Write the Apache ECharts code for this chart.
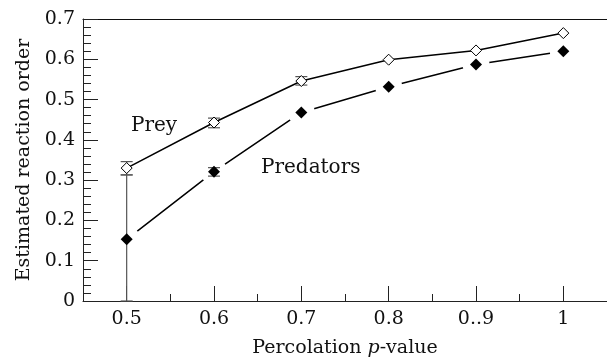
<!DOCTYPE html>
<html>
<head>
<meta charset="utf-8">
<script src="https://cdn.jsdelivr.net/npm/echarts@6/dist/echarts.min.js"></script>
<style>html,body{margin:0;padding:0;background:#fff}#c{width:607px;height:363px}</style>
</head>
<body>
<div id="c"></div>
<script>
const xValues = [0.5, 0.6, 0.7, 0.8, 0.9, 1.0];
const xTickLabels = ['0.5', '0.6', '0.7', '0.8', '0..9', '1'];
const xMinorTicks = [0.55, 0.65, 0.75, 0.85, 0.95];
const yTickLabels = ['0', '0.1', '0.2', '0.3', '0.4', '0.5', '0.6', '0.7'];
const preyValues = [0.330, 0.443, 0.546, 0.599, 0.622, 0.665];
const preyErrLow = [0.313, 0.430, 0.536, null, null, null];
const preyErrHigh = [0.346, 0.454, 0.557, null, null, null];
const predValues = [0.153, 0.321, 0.468, 0.532, 0.587, 0.620];
const predErrLow = [0.0, 0.310, null, null, null, null];
const predErrHigh = [0.313, 0.331, null, null, null, null];

const FONT = 'DejaVu Serif';
const chart = echarts.init(document.getElementById('c'), null, {renderer: 'canvas'});

function pts(vals) { return xValues.map((x, i) => [x, vals[i]]); }
function errs(lo, hi) {
  const out = [];
  xValues.forEach((x, i) => { if (lo[i] != null) out.push([x, lo[i], hi[i]]); });
  return out;
}
function errRender(params, api) {
  const x = api.value(0), lo = api.value(1), hi = api.value(2);
  const a = api.coord([x, lo]), b = api.coord([x, hi]);
  const w = 6;
  const st = {stroke: '#555', lineWidth: 1.2};
  return {type: 'group', children: [
    {type: 'line', shape: {x1: a[0], y1: a[1], x2: b[0], y2: b[1]}, style: st},
    {type: 'line', shape: {x1: a[0] - w, y1: a[1], x2: a[0] + w, y2: a[1]}, style: st},
    {type: 'line', shape: {x1: b[0] - w, y1: b[1], x2: b[0] + w, y2: b[1]}, style: st}
  ]};
}

const option = {
  animation: false,
  backgroundColor: '#fff',
  grid: {left: 83, top: 19, width: 532, height: 284, show: false},
  xAxis: [{
    type: 'value', min: 0.45, max: 1.05,
    name: 'Percolation {i|p}-value', nameLocation: 'middle', nameGap: 38,
    nameTextStyle: {fontFamily: FONT, fontSize: 19, color: '#111', rich: {i: {fontFamily: FONT, fontStyle: 'italic', fontSize: 19, color: '#111'}}},
    axisLine: {show: true, lineStyle: {color: '#222', width: 1}},
    axisTick: {show: true, inside: true, length: 15, customValues: xValues, lineStyle: {color: '#222', width: 1}},
    axisLabel: {show: true, customValues: xValues, margin: 9, fontFamily: FONT, fontSize: 19, color: '#111',
      formatter: v => { const i = xValues.findIndex(x => Math.abs(x - v) < 1e-6); return i >= 0 ? xTickLabels[i] : ''; }},
    splitLine: {show: false}
  }, {
    type: 'value', min: 0.45, max: 1.05, position: 'bottom',
    axisLine: {show: false},
    axisTick: {show: true, inside: true, length: 7, customValues: xMinorTicks, lineStyle: {color: '#222', width: 1}},
    axisLabel: {show: false},
    splitLine: {show: false}
  }, {
    type: 'value', min: 0.45, max: 1.05, position: 'top',
    axisLine: {show: true, lineStyle: {color: '#111', width: 1.2}},
    axisTick: {show: false},
    axisLabel: {show: false},
    splitLine: {show: false}
  }],
  yAxis: {
    type: 'value', min: 0, max: 0.7, interval: 0.1,
    name: 'Estimated reaction order', nameLocation: 'middle', nameGap: 47,
    nameTextStyle: {fontFamily: FONT, fontSize: 19, color: '#111'},
    axisLine: {show: true, lineStyle: {color: '#222', width: 1}},
    axisTick: {show: true, inside: true, length: 15, lineStyle: {color: '#222', width: 1}},
    minorTick: {show: true, splitNumber: 5, length: 8, lineStyle: {color: '#222', width: 1}},
    axisLabel: {margin: 8, fontFamily: FONT, fontSize: 19, color: '#111',
      formatter: v => yTickLabels[Math.round(v * 10)]},
    splitLine: {show: false}
  },
  series: [
    {type: 'line', data: pts(predValues), symbol: 'none', z: 2,
      lineStyle: {color: '#000', width: 1.5}},
    {type: 'scatter', data: pts(predValues), symbol: 'circle', symbolSize: 27, z: 3,
      itemStyle: {color: '#fff', opacity: 1}, silent: true},
    {type: 'line', data: pts(preyValues), symbol: 'none', z: 4,
      lineStyle: {color: '#000', width: 1.5}},
    {type: 'custom', data: errs(preyErrLow, preyErrHigh), renderItem: errRender, z: 5},
    {type: 'custom', data: errs(predErrLow, predErrHigh), renderItem: errRender, z: 5},
    {type: 'scatter', data: pts(preyValues), symbol: 'diamond', symbolSize: 11, z: 6,
      itemStyle: {color: '#fff', borderColor: '#000', borderWidth: 1, opacity: 1}},
    {type: 'scatter', data: pts(predValues), symbol: 'diamond', symbolSize: 12, z: 6,
      itemStyle: {color: '#000', opacity: 1}}
  ],
  graphic: [
    {type: 'text', left: 131, top: 116, style: {text: 'Prey', font: '20px "DejaVu Serif"', fill: '#111'}},
    {type: 'text', left: 261, top: 158, style: {text: 'Predators', font: '20px "DejaVu Serif"', fill: '#111'}}
  ]
};
chart.setOption(option);
</script>
</body>
</html>
